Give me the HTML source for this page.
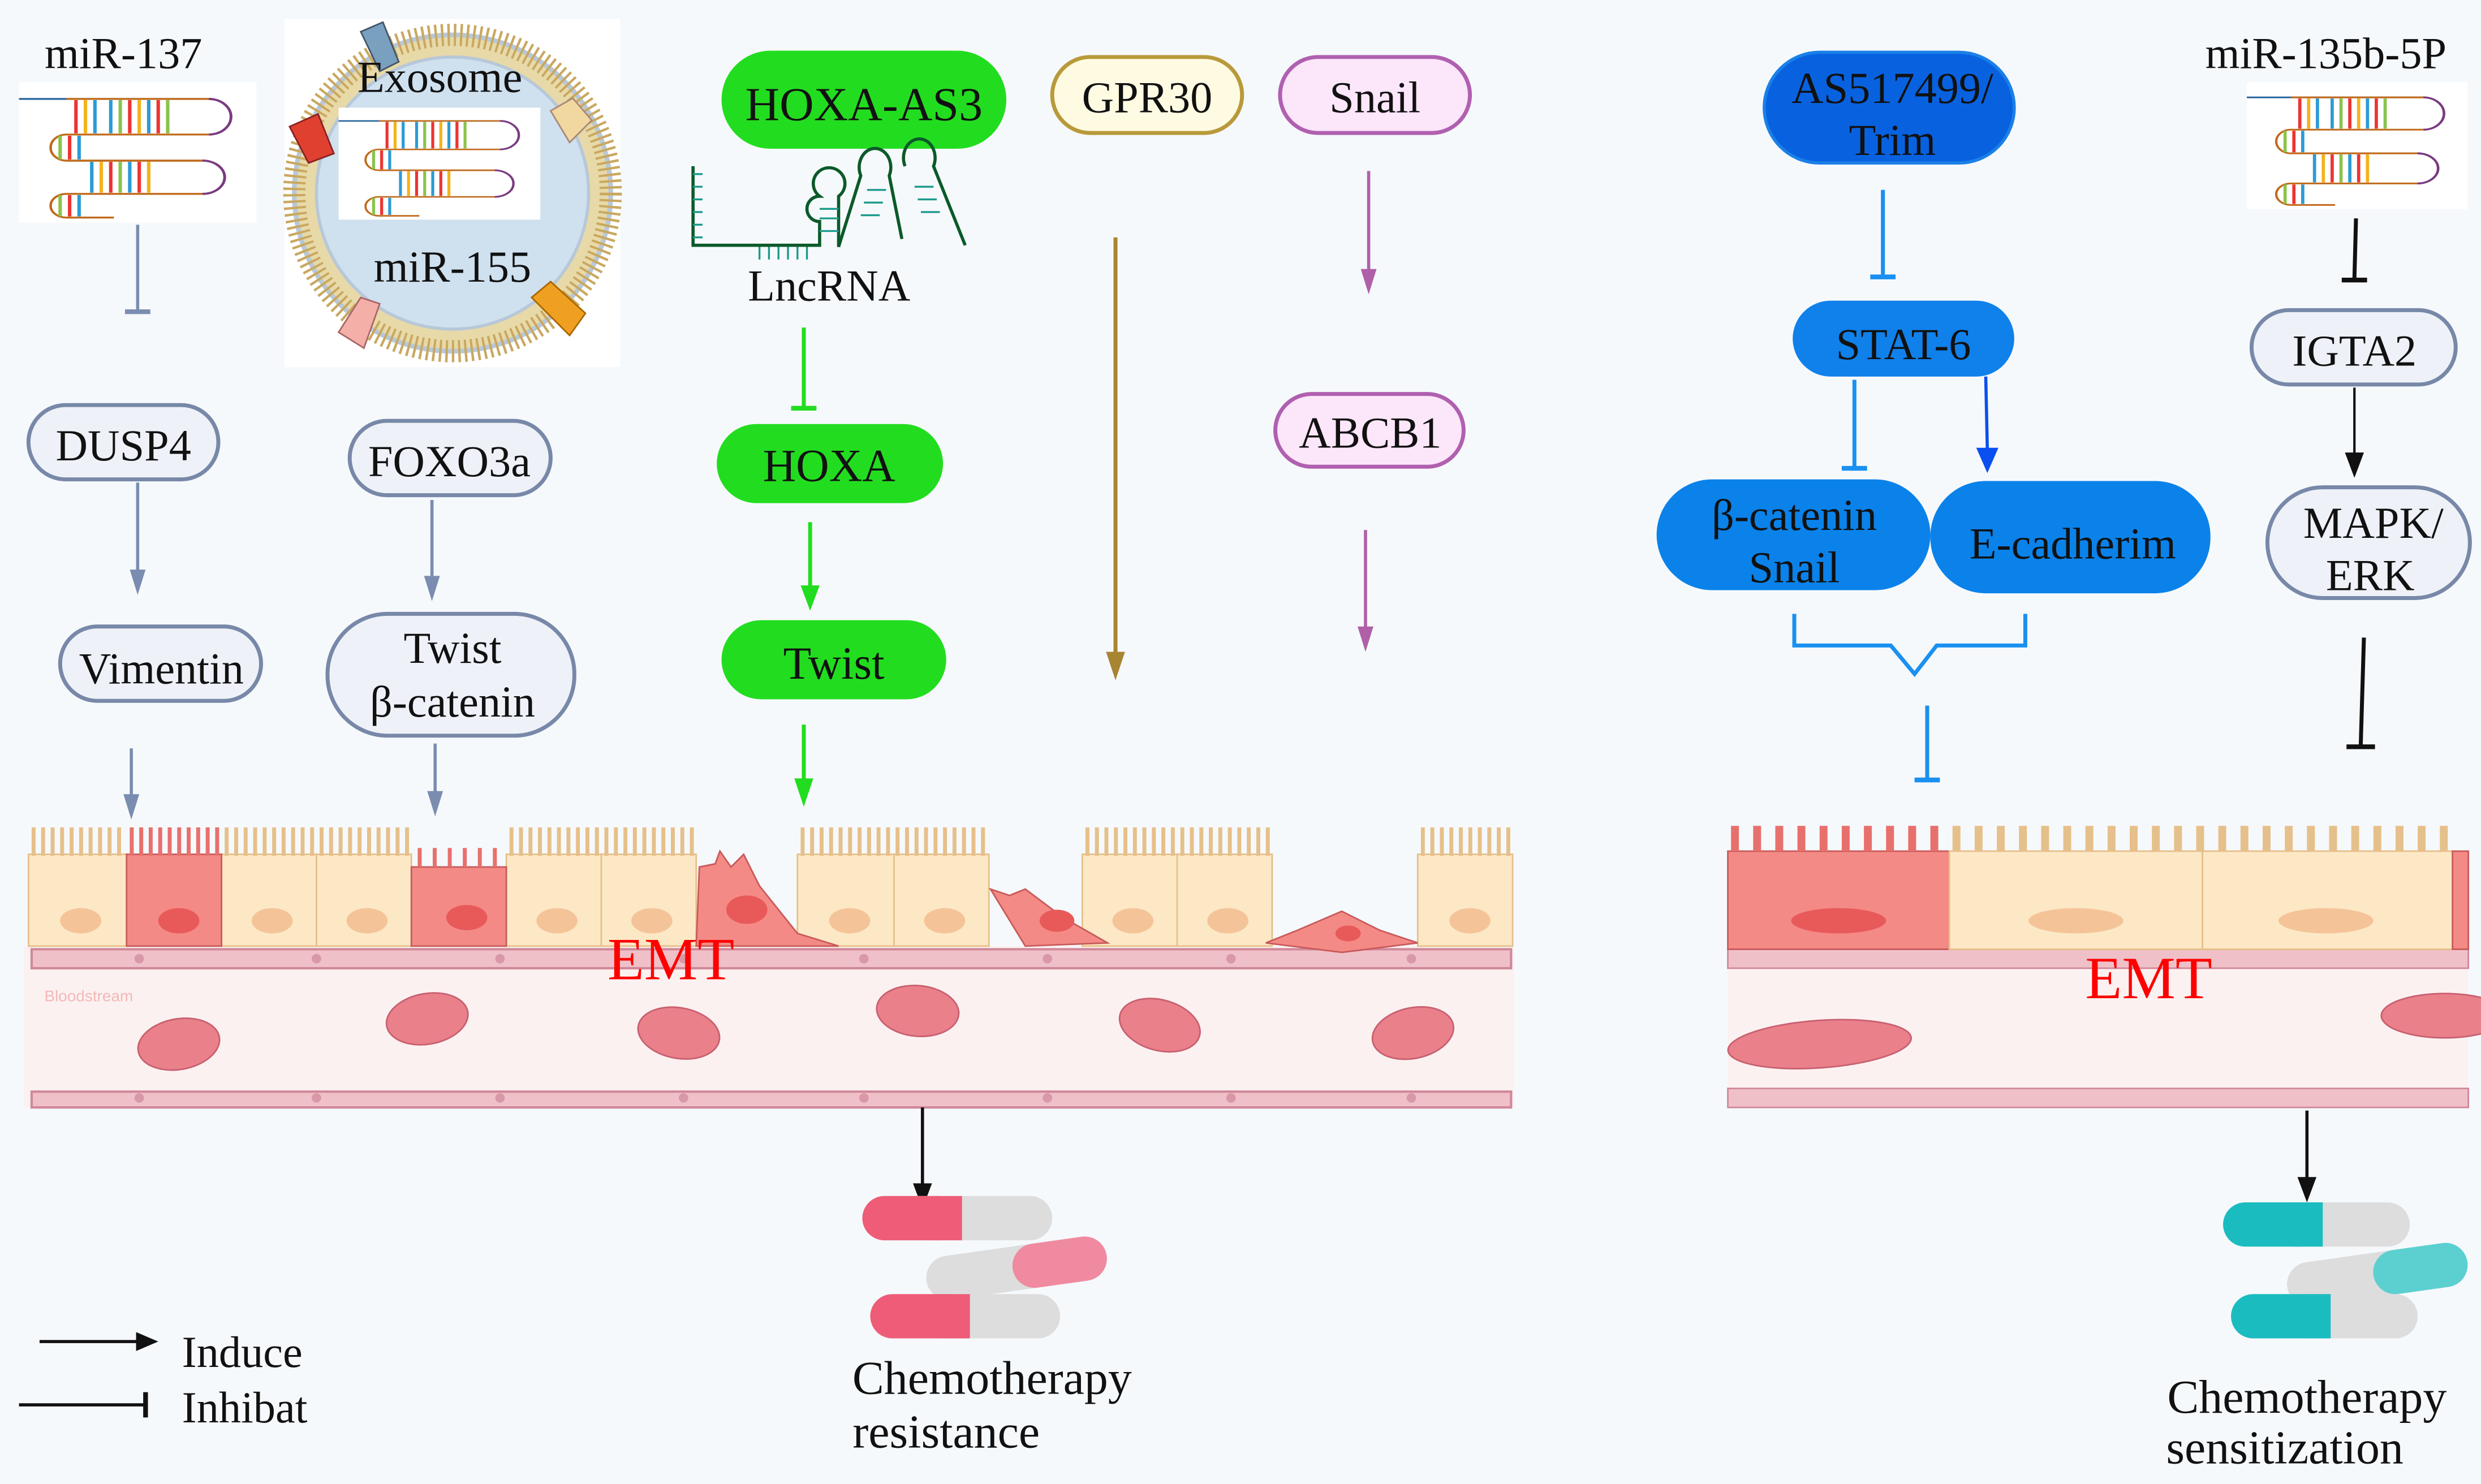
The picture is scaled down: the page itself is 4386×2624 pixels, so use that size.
<!DOCTYPE html>
<html><head><meta charset="utf-8"><style>
html,body{margin:0;padding:0;background:#f6f9fc;}
svg{display:block;}
text{font-family:"Liberation Serif",serif;fill:#111;}
</style></head><body>
<svg width="4386" height="2624" viewBox="0 0 1568 938" xmlns="http://www.w3.org/2000/svg">
<defs>
<g id="hp">
 <rect x="0" y="0" width="150" height="118" fill="#fff"/>
 <line x1="0" y1="14" x2="120" y2="14" stroke="#1f5f9a" stroke-width="1.5"/>
 <path d="M30,14 H122 M120,44 H30 M30,44 a10,11 0 0 0 0,22 H118 M118,94 H30 a10,10 0 0 0 0,20 H60" fill="none" stroke="#c06a1a" stroke-width="1.6"/>
 <g stroke-width="2.2">
  <line x1="36" y1="15" x2="36" y2="43" stroke="#e33"/><line x1="42" y1="15" x2="42" y2="43" stroke="#f5b21a"/><line x1="48" y1="15" x2="48" y2="43" stroke="#2b9bd6"/><line x1="58" y1="15" x2="58" y2="43" stroke="#2b9bd6"/><line x1="64" y1="15" x2="64" y2="43" stroke="#8bc34a"/><line x1="70" y1="15" x2="70" y2="43" stroke="#e33"/><line x1="76" y1="15" x2="76" y2="43" stroke="#f5b21a"/><line x1="82" y1="15" x2="82" y2="43" stroke="#2b9bd6"/><line x1="88" y1="15" x2="88" y2="43" stroke="#e33"/><line x1="94" y1="15" x2="94" y2="43" stroke="#8bc34a"/>
  <line x1="26" y1="45" x2="26" y2="65" stroke="#8bc34a"/><line x1="32" y1="45" x2="32" y2="65" stroke="#e33"/><line x1="38" y1="45" x2="38" y2="65" stroke="#2b9bd6"/>
  <line x1="46" y1="67" x2="46" y2="93" stroke="#2b9bd6"/><line x1="52" y1="67" x2="52" y2="93" stroke="#f5b21a"/><line x1="58" y1="67" x2="58" y2="93" stroke="#e33"/><line x1="64" y1="67" x2="64" y2="93" stroke="#8bc34a"/><line x1="70" y1="67" x2="70" y2="93" stroke="#2b9bd6"/><line x1="76" y1="67" x2="76" y2="93" stroke="#e33"/><line x1="82" y1="67" x2="82" y2="93" stroke="#f5b21a"/>
  <line x1="26" y1="95" x2="26" y2="113" stroke="#8bc34a"/><line x1="32" y1="95" x2="32" y2="113" stroke="#e33"/><line x1="38" y1="95" x2="38" y2="113" stroke="#2b9bd6"/>
 </g>
 <path d="M120,14 a14,15 0 1 1 0,30 M116,66 a14,14 0 1 1 0,28" fill="none" stroke="#7a3a80" stroke-width="1.8"/>
 <path d="M30,66 H116" fill="none" stroke="#c06a1a" stroke-width="1.6"/>
</g>
</defs>
<rect width="1568" height="938" fill="#f6f9fc"/>

<!-- miR-137 -->
<text x="78" y="43" font-size="28" text-anchor="middle">miR-137</text>
<g transform="translate(12,52) scale(1,0.75)"><use href="#hp"/></g>

<!-- Exosome -->
<rect x="180" y="12" width="212" height="220" fill="#fff"/>
<circle cx="286" cy="122" r="100" fill="#e8d9a8" stroke="#b8c8d8" stroke-width="3"/>
<circle cx="286" cy="122" r="100" fill="none" stroke="#c9a860" stroke-width="14" stroke-dasharray="1.5 2.5"/>
<circle cx="286" cy="122" r="86" fill="#cfe0ef" stroke="#b8c8d8" stroke-width="2"/>
<g transform="translate(214,68) scale(0.85,0.6)"><use href="#hp"/></g>
<path d="M228,20 l14,-6 l10,25 l-12,6 z" fill="#7aa0c0" stroke="#456"/>
<path d="M183,80 l18,-8 l10,25 l-16,6 z" fill="#e04030" stroke="#822"/>
<path d="M348,70 l14,-8 l12,14 l-14,14 z" fill="#f0d8a0" stroke="#a87"/>
<path d="M214,210 l14,-22 l12,4 l-10,28 z" fill="#f4b0a8" stroke="#a66"/>
<path d="M336,188 l12,-10 l22,20 l-10,14 z" fill="#f0a020" stroke="#a60"/>
<text x="278" y="58" font-size="28" text-anchor="middle">Exosome</text>
<text x="286" y="178" font-size="28" text-anchor="middle">miR-155</text>

<!-- HOXA-AS3 column -->
<rect x="456" y="32" width="180" height="62" rx="31" fill="#22dd1f"/>
<text x="546" y="76" font-size="30" text-anchor="middle">HOXA-AS3</text>
<g fill="none" stroke="#0c5a2a" stroke-width="2">
<path d="M438,105 V155 H518 V140 a8,8 0 0 1 0,-16 a10,10 0 1 1 12,0 V156 l14,-45 a10,12 0 1 1 18,0 l8,40 M572,105 a10,12 0 1 1 18,0 l20,50"/>
</g>
<g stroke="#1a9a8a" stroke-width="1.2"><path d="M438,110h6M438,118h6M438,126h6M438,134h6M438,142h6M438,150h6M480,156v8M486,156v8M492,156v8M498,156v8M504,156v8M510,156v8M518,132h12M518,138h12M518,146h12M548,120h12M546,128h12M544,136h12M578,118h12M580,126h12M582,134h12"/></g>
<text x="524" y="190" font-size="28" text-anchor="middle">LncRNA</text>
<line x1="508" y1="207" x2="508" y2="257" stroke="#22dd1f" stroke-width="2.5"/><line x1="500" y1="258" x2="516" y2="258" stroke="#22dd1f" stroke-width="3"/>
<rect x="453" y="268" width="143" height="50" rx="25" fill="#22dd1f"/>
<text x="524" y="304" font-size="29" text-anchor="middle">HOXA</text>
<line x1="512" y1="330" x2="512" y2="372" stroke="#22dd1f" stroke-width="2.5"/><path d="M506,370 L518,370 L512,386 Z" fill="#22dd1f"/>
<rect x="456" y="392" width="142" height="50" rx="25" fill="#22dd1f"/>
<text x="527" y="429" font-size="29" text-anchor="middle">Twist</text>
<line x1="508" y1="458" x2="508" y2="494" stroke="#22dd1f" stroke-width="2.5"/><path d="M502,492 L514,492 L508,510 Z" fill="#22dd1f"/>

<!-- GPR30 / Snail -->
<rect x="665" y="36" width="120" height="48" rx="24" fill="#fffbe3" stroke="#b89a3a" stroke-width="2.5"/>
<text x="725" y="71" font-size="28" text-anchor="middle">GPR30</text>
<line x1="705" y1="150" x2="705" y2="414" stroke="#a88530" stroke-width="2.5"/><path d="M699,412 L711,412 L705,430 Z" fill="#a88530"/>
<rect x="809" y="36" width="120" height="48" rx="24" fill="#fce6fa" stroke="#b060b0" stroke-width="2.5"/>
<text x="869" y="71" font-size="28" text-anchor="middle">Snail</text>
<line x1="865" y1="108" x2="865" y2="172" stroke="#b060a8" stroke-width="2"/><path d="M860,170 L870,170 L865,186 Z" fill="#b060a8"/>
<rect x="806" y="249" width="119" height="46" rx="23" fill="#fce6fa" stroke="#b060b0" stroke-width="2.5"/>
<text x="866" y="283" font-size="28" text-anchor="middle">ABCB1</text>
<line x1="863" y1="335" x2="863" y2="398" stroke="#b060a8" stroke-width="2"/><path d="M858,396 L868,396 L863,412 Z" fill="#b060a8"/>

<!-- left grey column -->
<g stroke="#7a8db0" stroke-width="2" fill="none">
<line x1="87" y1="142" x2="87" y2="196"/><line x1="79" y1="197" x2="95" y2="197" stroke-width="3"/>
<line x1="87" y1="305" x2="87" y2="362"/>
<line x1="273" y1="316" x2="273" y2="366"/>
<line x1="83" y1="473" x2="83" y2="505"/>
<line x1="275" y1="470" x2="275" y2="502"/>
</g>
<g fill="#7a8db0"><path d="M82,360 L92,360 L87,376 Z"/><path d="M268,364 L278,364 L273,380 Z"/><path d="M78,502 L88,502 L83,518 Z"/><path d="M270,500 L280,500 L275,516 Z"/></g>
<g fill="#eef2f8" stroke="#7888a8" stroke-width="2.5">
<rect x="18" y="256" width="120" height="47" rx="23.5"/>
<rect x="221" y="266" width="127" height="47" rx="23.5"/>
<rect x="38" y="396" width="127" height="47" rx="23.5"/>
<rect x="207" y="388" width="156" height="77" rx="38"/>
</g>
<text x="78" y="291" font-size="28" text-anchor="middle">DUSP4</text>
<text x="284" y="301" font-size="28" text-anchor="middle">FOXO3a</text>
<text x="102" y="432" font-size="28" text-anchor="middle">Vimentin</text>
<text x="286" y="419" font-size="28" text-anchor="middle">Twist</text>
<text x="286" y="453" font-size="28" text-anchor="middle">β-catenin</text>

<!-- left tissue -->
<rect x="15" y="598" width="942" height="102" fill="#fcf1f1"/>
<text x="28" y="633" font-size="10" style="font-family:'Liberation Sans',sans-serif;fill:#f4b8b8">Bloodstream</text>
<g fill="#f0c0c8" stroke="#d08898" stroke-width="1.5">
<path d="M20,600 H955 V612 H20 Z"/>
<path d="M20,690 H955 V700 H20 Z"/>
</g>
<g fill="#d898a8"><circle cx="88" cy="606" r="3"/><circle cx="200" cy="606" r="3"/><circle cx="316" cy="606" r="3"/><circle cx="432" cy="606" r="3"/><circle cx="546" cy="606" r="3"/><circle cx="662" cy="606" r="3"/><circle cx="778" cy="606" r="3"/><circle cx="892" cy="606" r="3"/>
<circle cx="88" cy="694" r="3"/><circle cx="200" cy="694" r="3"/><circle cx="316" cy="694" r="3"/><circle cx="432" cy="694" r="3"/><circle cx="546" cy="694" r="3"/><circle cx="662" cy="694" r="3"/><circle cx="778" cy="694" r="3"/><circle cx="892" cy="694" r="3"/></g>
<g fill="#e9808a" stroke="#c86070" stroke-width="1">
<ellipse cx="113" cy="660" rx="26" ry="16" transform="rotate(-10 113 660)"/>
<ellipse cx="270" cy="644" rx="26" ry="16" transform="rotate(-10 270 644)"/>
<ellipse cx="429" cy="653" rx="26" ry="16" transform="rotate(10 429 653)"/>
<ellipse cx="580" cy="639" rx="26" ry="16" transform="rotate(5 580 639)"/>
<ellipse cx="733" cy="648" rx="26" ry="16" transform="rotate(15 733 648)"/>
<ellipse cx="893" cy="653" rx="26" ry="16" transform="rotate(-12 893 653)"/>
</g>
<g fill="#fde8c6" stroke="#e6c08a" stroke-width="1">
<rect x="18" y="540" width="62" height="58"/><rect x="140" y="540" width="60" height="58"/><rect x="200" y="540" width="60" height="58"/><rect x="320" y="540" width="60" height="58"/><rect x="380" y="540" width="60" height="58"/><rect x="504" y="540" width="61" height="58"/><rect x="565" y="540" width="60" height="58"/><rect x="684" y="540" width="60" height="58"/><rect x="744" y="540" width="60" height="58"/><rect x="896" y="540" width="60" height="58"/>
</g>
<g stroke="#e6c08a" stroke-width="18" stroke-dasharray="2.5 3.5" fill="none">
<line x1="20" y1="532" x2="80" y2="532"/><line x1="142" y1="532" x2="260" y2="532"/><line x1="322" y1="532" x2="440" y2="532"/><line x1="506" y1="532" x2="625" y2="532"/><line x1="686" y1="532" x2="804" y2="532"/><line x1="898" y1="532" x2="956" y2="532"/>
</g>
<g fill="#f4c498"><ellipse cx="51" cy="582" rx="13" ry="8"/><ellipse cx="172" cy="582" rx="13" ry="8"/><ellipse cx="232" cy="582" rx="13" ry="8"/><ellipse cx="352" cy="582" rx="13" ry="8"/><ellipse cx="412" cy="582" rx="13" ry="8"/><ellipse cx="537" cy="582" rx="13" ry="8"/><ellipse cx="597" cy="582" rx="13" ry="8"/><ellipse cx="716" cy="582" rx="13" ry="8"/><ellipse cx="776" cy="582" rx="13" ry="8"/><ellipse cx="929" cy="582" rx="13" ry="8"/></g>
<g fill="#f48a86" stroke="#c85a5a" stroke-width="1">
<rect x="80" y="540" width="60" height="58"/>
<path d="M260,548 H320 V598 H260 Z"/>
<path d="M440,598 L442,548 L452,546 L455,538 L462,548 L470,540 L480,560 L504,590 L530,598 Z"/>
<path d="M626,562 L638,566 L648,562 L672,580 L700,596 L648,598 Z"/>
<path d="M800,596 L820,588 L848,576 L872,588 L896,596 L848,602 Z"/>
</g>
<line x1="82" y1="532" x2="140" y2="532" stroke="#e8706c" stroke-width="18" stroke-dasharray="2.5 3.5"/>
<line x1="264" y1="542" x2="318" y2="542" stroke="#e8706c" stroke-width="12" stroke-dasharray="2.5 7"/>
<g fill="#e85a5a"><ellipse cx="113" cy="582" rx="13" ry="8"/><ellipse cx="295" cy="580" rx="13" ry="8"/><ellipse cx="472" cy="575" rx="13" ry="9"/><ellipse cx="668" cy="582" rx="11" ry="7"/><ellipse cx="852" cy="590" rx="8" ry="5"/></g>
<text x="424" y="619" font-size="38" text-anchor="middle" style="fill:#ff0000">EMT</text>

<!-- chemo left -->
<line x1="583" y1="700" x2="583" y2="750" stroke="#111" stroke-width="2"/><path d="M577,748 L589,748 L583,764 Z" fill="#111"/>
<rect x="545" y="756" width="120" height="28" rx="14" fill="#ddd"/><rect x="545" y="756" width="62" height="28" rx="14" fill="#ee5c78"/><rect x="590" y="756" width="18" height="28" fill="#ee5c78"/>
<rect x="585" y="788" width="115" height="28" rx="14" fill="#ddd" transform="rotate(-8 640 802)"/><rect x="640" y="788" width="60" height="28" rx="14" fill="#f08aa0" transform="rotate(-8 640 802)"/>
<rect x="550" y="818" width="120" height="28" rx="14" fill="#ddd"/><rect x="550" y="818" width="62" height="28" rx="14" fill="#ee5c78"/><rect x="595" y="818" width="18" height="28" fill="#ee5c78"/>
<text x="627" y="881" font-size="30" text-anchor="middle">Chemotherapy</text>
<text x="598" y="915" font-size="30" text-anchor="middle">resistance</text>

<!-- legend -->
<line x1="25" y1="848" x2="88" y2="848" stroke="#111" stroke-width="2"/><path d="M86,842 L100,848 L86,854 Z" fill="#111"/>
<text x="115" y="864" font-size="28">Induce</text>
<line x1="12" y1="888" x2="92" y2="888" stroke="#111" stroke-width="2"/><line x1="92" y1="880" x2="92" y2="896" stroke="#111" stroke-width="3"/>
<text x="115" y="899" font-size="28">Inhibat</text>

<!-- right blue column -->
<rect x="1115" y="33" width="158" height="70" rx="35" fill="#0862e0" stroke="#1a80e8" stroke-width="2"/>
<text x="1196" y="65" font-size="28" text-anchor="middle">AS517499/</text>
<text x="1196" y="98" font-size="28" text-anchor="middle">Trim</text>
<g stroke="#1a90f0" stroke-width="2.5" fill="none">
<line x1="1190" y1="120" x2="1190" y2="174"/><line x1="1182" y1="175" x2="1198" y2="175" stroke-width="3"/>
<line x1="1172" y1="240" x2="1172" y2="296"/><line x1="1164" y1="296" x2="1180" y2="296" stroke-width="3"/>
<path d="M1134,388 V408 H1195 L1210,426 L1224,408 H1280 V388"/>
<line x1="1218" y1="446" x2="1218" y2="492"/><line x1="1210" y1="493" x2="1226" y2="493" stroke-width="3"/>
</g>
<line x1="1255" y1="238" x2="1256" y2="284" stroke="#0a50f0" stroke-width="2"/><path d="M1249,283 L1263,283 L1256,299 Z" fill="#0a50f0"/>
<rect x="1133" y="190" width="140" height="48" rx="24" fill="#1080ea"/>
<text x="1203" y="227" font-size="28" text-anchor="middle">STAT-6</text>
<rect x="1047" y="303" width="173" height="70" rx="35" fill="#0a82ea"/>
<rect x="1220" y="304" width="177" height="71" rx="35" fill="#0a82ea"/>
<text x="1134" y="335" font-size="28" text-anchor="middle">β-catenin</text>
<text x="1134" y="368" font-size="28" text-anchor="middle">Snail</text>
<text x="1310" y="353" font-size="28" text-anchor="middle">E-cadherim</text>

<!-- right grey column -->
<text x="1470" y="43" font-size="28" text-anchor="middle">miR-135b-5P</text>
<g transform="translate(1420,52) scale(0.93,0.68)"><use href="#hp"/></g>
<g stroke="#111" stroke-width="2.5">
<line x1="1489" y1="138" x2="1488" y2="176"/><line x1="1480" y1="177" x2="1496" y2="177" stroke-width="3"/>
<line x1="1488" y1="245" x2="1488" y2="288" stroke-width="1.5"/>
<line x1="1494" y1="403" x2="1492" y2="471"/><line x1="1483" y1="472" x2="1501" y2="472" stroke-width="3"/>
</g>
<path d="M1482,286 L1494,286 L1488,302 Z" fill="#111"/>
<rect x="1423" y="196" width="129" height="47" rx="23.5" fill="#eef2f8" stroke="#7888a8" stroke-width="2.5"/>
<text x="1488" y="231" font-size="28" text-anchor="middle">IGTA2</text>
<rect x="1433" y="308" width="128" height="70" rx="35" fill="#eef2f8" stroke="#7888a8" stroke-width="2.5"/>
<text x="1500" y="340" font-size="28" text-anchor="middle">MAPK/</text>
<text x="1498" y="373" font-size="28" text-anchor="middle">ERK</text>

<!-- right tissue -->
<rect x="1092" y="600" width="468" height="100" fill="#fcf1f1"/>
<rect x="1092" y="600" width="468" height="12" fill="#f0c0c8" stroke="#d08898"/>
<rect x="1092" y="688" width="468" height="12" fill="#f0c0c8" stroke="#d08898"/>
<g fill="#e9808a" stroke="#c86070"><ellipse cx="1150" cy="660" rx="58" ry="15" transform="rotate(-4 1150 660)"/><ellipse cx="1545" cy="642" rx="40" ry="14"/></g>
<rect x="1092" y="538" width="140" height="62" fill="#f48a86" stroke="#c85a5a"/>
<rect x="1232" y="538" width="160" height="62" fill="#fde8c6" stroke="#e6c08a"/>
<rect x="1392" y="538" width="158" height="62" fill="#fde8c6" stroke="#e6c08a"/>
<rect x="1550" y="538" width="10" height="62" fill="#f48a86" stroke="#c85a5a"/>
<line x1="1094" y1="530" x2="1232" y2="530" stroke="#e8706c" stroke-width="16" stroke-dasharray="5 9"/>
<line x1="1234" y1="530" x2="1550" y2="530" stroke="#e6c08a" stroke-width="16" stroke-dasharray="5 9"/>
<ellipse cx="1162" cy="582" rx="30" ry="8" fill="#e85a5a"/>
<ellipse cx="1312" cy="582" rx="30" ry="8" fill="#f4c498"/>
<ellipse cx="1470" cy="582" rx="30" ry="8" fill="#f4c498"/>
<text x="1358" y="631" font-size="38" text-anchor="middle" style="fill:#ff0000">EMT</text>

<!-- chemo right -->
<line x1="1458" y1="702" x2="1458" y2="746" stroke="#111" stroke-width="2"/><path d="M1452,744 L1464,744 L1458,760 Z" fill="#111"/>
<rect x="1405" y="760" width="118" height="28" rx="14" fill="#ddd"/><rect x="1405" y="760" width="62" height="28" rx="14" fill="#1bbcc0"/><rect x="1450" y="760" width="18" height="28" fill="#1bbcc0"/>
<rect x="1445" y="792" width="115" height="28" rx="14" fill="#ddd" transform="rotate(-8 1500 806)"/><rect x="1500" y="792" width="60" height="28" rx="14" fill="#5cd0d0" transform="rotate(-8 1500 806)"/>
<rect x="1410" y="818" width="118" height="28" rx="14" fill="#ddd"/><rect x="1410" y="818" width="62" height="28" rx="14" fill="#1bbcc0"/><rect x="1455" y="818" width="18" height="28" fill="#1bbcc0"/>
<text x="1458" y="893" font-size="30" text-anchor="middle">Chemotherapy</text>
<text x="1444" y="925" font-size="30" text-anchor="middle">sensitization</text>
</svg>
</body></html>
